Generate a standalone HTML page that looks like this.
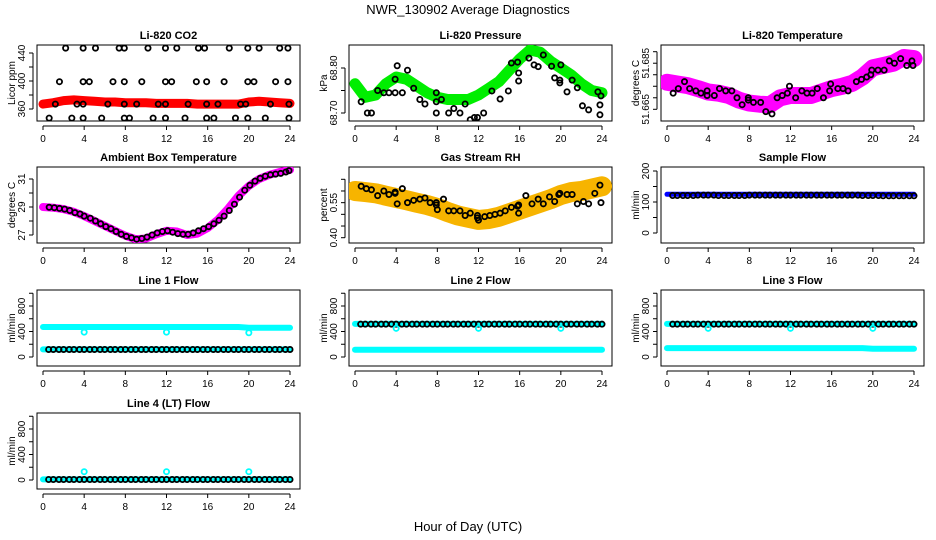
<!DOCTYPE html>
<html><head><meta charset="utf-8"><style>
html,body{margin:0;padding:0;background:#fff}
svg{display:block;font-family:"Liberation Sans",sans-serif}
</style></head><body>
<svg id="chart" width="936" height="540" viewBox="0 0 936 540">
<text x="468" y="14" text-anchor="middle" font-size="13">NWR_130902  Average Diagnostics</text>
<text x="468" y="531" text-anchor="middle" font-size="13">Hour of Day (UTC)</text>
</svg>
<script>
// ---- data ----
const xTicks = [0,4,8,12,16,20,24];
const hourly = [0,1,2,3,4,5,6,7,8,9,10,11,12,13,14,15,16,17,18,19,20,21,22,23,24];

const co2Band = [367,369,372,373,372,371,370,370,369,369,369,368,368,368,368,367,367,367,367,367,370,371,370,369,368];
const co2PtHours = [2.2,3.9,5.1,7.4,7.9,10.2,11.9,13,15.1,15.7,18.1,19.9,21,23,23.8, 1.6,3.9,4.5,6.8,7.9,9.6,11.9,12.5,14.9,15.9,17.6,19.9,20.5,22.6,23.8, 1.2,3.3,3.9,6.3,7.9,9.1,11.2,11.9,14.1,15.9,17,19.2,19.7,22.1,23.9, 0.6,2.8,3.9,5.7,7.9,8.4,10.7,11.9,13.8,15.9,16.6,18.7,19.9,21.6,23.9];
const co2PtVals = [447,447,447,447,447,447,447,447,447,447,447,447,447,447,447, 399,399,399,399,399,399,399,399,399,399,399,399,399,399,399, 367,367,367,367,367,367,367,367,367,367,367,367,367,367,367, 347,347,347,347,347,347,347,347,347,347,347,347,347,347,347];
const co2Ticks = [360,380,400,420,440];
const co2Labels = ["360","","400","","440"];

const presBand = [68.765,68.735,68.74,68.765,68.78,68.775,68.76,68.745,68.735,68.73,68.73,68.73,68.74,68.755,68.77,68.795,68.82,68.84,68.835,68.815,68.8,68.785,68.765,68.75,68.745];
const presPtHours = [0.6,1.2,1.6,2.2,2.8,3.3,3.9,3.9,4.1,4.6,5.1,5.7,6.3,6.8,7.9,7.9,7.9,8.4,9.1,9.6,10.2,10.7,11.2,11.6,11.9,12.5,13.3,14.1,14.9,15.2,15.8,15.9,15.9,16.9,17.4,17.8,18.3,19.1,19.4,19.9,19.9,20.0,20.6,21.1,21.6,22.1,22.7,23.8,23.8,23.9,23.6];
const presPtVals = [68.725,68.70,68.70,68.75,68.745,68.745,68.745,68.775,68.805,68.745,68.795,68.755,68.73,68.72,68.70,68.725,68.745,68.73,68.70,68.71,68.70,68.72,68.685,68.69,68.69,68.70,68.749,68.731,68.749,68.811,68.813,68.789,68.771,68.822,68.807,68.803,68.829,68.804,68.778,68.773,68.767,68.807,68.747,68.773,68.756,68.716,68.707,68.696,68.718,68.738,68.747];
const presTicks = [68.70,68.75,68.80];
const presLabels = ["68.70","","68.80"];

const ltBand = [51.6717,51.671,51.6703,51.669,51.6675,51.667,51.666,51.664,51.6627,51.6622,51.662,51.665,51.666,51.666,51.666,51.6675,51.669,51.670,51.6713,51.674,51.678,51.679,51.680,51.6825,51.682];
const ltPtHours = [0.6,1.1,1.7,2.2,2.8,3.3,3.9,3.9,4.6,5.1,5.7,6.3,6.8,7.3,7.9,7.9,8.4,9.1,9.6,10.2,10.7,11.2,11.7,11.9,12.5,13.1,13.6,14.1,14.6,15.2,15.8,15.9,16.6,17.1,17.6,18.4,18.9,19.4,19.8,19.9,20.5,21.1,21.6,22.1,22.7,23.3,23.8,23.9];
const ltPtVals = [51.667,51.669,51.672,51.669,51.668,51.667,51.666,51.668,51.666,51.669,51.668,51.668,51.665,51.662,51.664,51.665,51.663,51.663,51.659,51.658,51.665,51.666,51.667,51.670,51.665,51.668,51.667,51.667,51.669,51.665,51.668,51.671,51.669,51.669,51.668,51.672,51.673,51.674,51.675,51.677,51.677,51.677,51.681,51.680,51.682,51.679,51.681,51.679];
const ltTicks = [51.660,51.665,51.670,51.675,51.680,51.685];
const ltLabels = ["51.665","","","","51.685",""];

const ambBand = [29.0,28.95,28.85,28.65,28.35,28.0,27.65,27.3,26.95,26.7,26.75,27.05,27.3,27.25,27.0,27.1,27.5,28.1,28.9,29.8,30.5,31.0,31.3,31.5,31.65];
const ambPtHours = [0.6,1.1,1.6,2.1,2.6,3.1,3.6,4.0,4.6,5.1,5.6,6.1,6.6,7.1,7.6,8.1,8.6,9.1,9.6,10.1,10.6,11.1,11.6,12.1,12.6,13.1,13.6,14.1,14.6,15.1,15.6,16.1,16.6,17.1,17.6,18.1,18.6,19.1,19.6,20.1,20.6,21.1,21.6,22.1,22.6,23.1,23.6,23.9];
const ambPtVals = [28.98,28.95,28.9,28.85,28.75,28.6,28.5,28.35,28.2,28.0,27.8,27.6,27.45,27.25,27.05,26.9,26.8,26.7,26.75,26.85,27.0,27.15,27.25,27.3,27.2,27.1,27.05,27.05,27.15,27.3,27.45,27.6,27.8,28.05,28.35,28.75,29.2,29.7,30.2,30.55,30.85,31.05,31.2,31.3,31.35,31.4,31.5,31.6];
const ambTicks = [27,28,29,30,31];
const ambLabels = ["27","","29","","31"];

const rhBand = [0.60,0.595,0.59,0.58,0.57,0.56,0.55,0.54,0.527,0.51,0.495,0.485,0.476,0.48,0.49,0.505,0.52,0.535,0.55,0.565,0.583,0.595,0.60,0.61,0.62];
const rhPtHours = [0.6,1.1,1.6,2.2,2.8,3.3,3.9,3.9,4.1,4.6,5.1,5.7,6.3,6.8,7.3,7.9,7.9,8.0,8.6,9.1,9.6,10.2,10.7,11.2,11.9,11.9,12.0,12.6,13.1,13.6,14.1,14.6,15.2,15.8,15.9,15.9,16.6,17.2,17.8,18.3,18.9,19.4,19.8,19.9,20.6,21.1,21.6,22.2,22.7,23.3,23.8,23.9];
const rhPtVals = [0.62,0.61,0.605,0.58,0.60,0.585,0.59,0.595,0.545,0.61,0.55,0.56,0.565,0.57,0.55,0.55,0.54,0.52,0.565,0.515,0.515,0.515,0.495,0.505,0.485,0.495,0.475,0.49,0.495,0.50,0.505,0.515,0.53,0.535,0.54,0.505,0.58,0.545,0.565,0.545,0.575,0.555,0.585,0.59,0.585,0.585,0.545,0.555,0.545,0.59,0.625,0.55];
const rhTicks = [0.40,0.45,0.50,0.55,0.60,0.65];
const rhLabels = ["0.40","","","0.55","",""];

const sfBand = [125,125,125,125,125,125,125,125,125,125,125,125,125,125,125,125,125,125,125,125,125,125,125,125,125];
const sfBlack = [121,121,121,122,122,121,121,121,122,122,122,122,122,122,122,122,122,122,122,121,121,120,120,120,120];
const sfTicks = [0,50,100,150,200];
const sfLabels = ["0","","100","","200"];

const flowTicks = [0,200,400,600,800,1000];
const flowLabels = ["0","","400","","800",""];
const l1High = [470,470,470,470,470,470,470,470,470,470,470,470,470,470,470,470,470,470,470,470,460,460,460,460,460];
const l1Low = [120,120,120,120,120,120,120,120,120,120,120,120,120,120,120,120,120,120,120,120,120,120,120,120,120];
const l1Black = [118,118,118,118,118,118,118,118,118,118,118,118,118,118,118,118,118,118,118,118,118,118,118,118,118];
const l1Outliers = [390,390,380];
const l2High = [520,520,520,520,520,520,520,520,520,520,520,520,520,520,520,520,520,520,520,520,520,520,520,520,520];
const l2Low = [115,115,115,115,115,115,115,115,115,115,115,115,115,115,115,115,115,115,115,115,115,115,115,115,115];
const l2Black = [515,515,515,515,515,515,515,515,515,515,515,515,515,515,515,515,515,515,515,515,515,515,515,515,515];
const l2Outliers = [450,450,450];
const l3High = [520,520,520,520,520,520,520,520,520,520,520,520,520,520,520,520,520,520,520,520,520,520,520,520,520];
const l3Low = [140,140,140,140,140,140,140,140,140,140,140,140,140,140,140,140,140,140,140,140,130,130,130,130,130];
const l3Black = [515,515,515,515,515,515,515,515,515,515,515,515,515,515,515,515,515,515,515,515,515,515,515,515,515];
const l3Outliers = [450,450,450];
const l4Band = [10,10,10,10,10,10,10,10,10,10,10,10,10,10,10,10,10,10,10,10,10,10,10,10,10];
const l4Black = [8,8,8,8,8,8,8,8,8,8,8,8,8,8,8,8,8,8,8,8,8,8,8,8,8];
const l4Outliers = [130,130,130];
const outlierHours = [4,12,20];

// ---- drawing ----
const NS = "http://www.w3.org/2000/svg";
const svg = document.getElementById('chart');
function mk(tag, attrs, parent){const e=document.createElementNS(NS,tag);for(const k in attrs)e.setAttribute(k,attrs[k]);(parent||svg).appendChild(e);return e;}

const colLeft = [37,349,661], rowTop = [45,167,290,413], BW = 263, BH = 76;

function panel(name, col, row, title, ytitle, v1, y1, v2, y2, ticks, labels){
  const L = colLeft[col], T = rowTop[row];
  const g = mk('g',{});
  
  
  const xs = h => L + 6 + h * (247/24);
  const ys = v => T + y1 + (v - v1) * (y2 - y1) / (v2 - v1);
  const t = mk('text',{x:L+BW/2,y:T-6,'text-anchor':'middle','font-size':11,'font-weight':'bold'},g);
  t.textContent = title;
  
  
  const box = mk('rect',{x:L,y:T,width:BW,height:BH,fill:'none',stroke:'#000','stroke-width':1},g);
  
  
  const xa = mk('g',{},g);
  
  
  const ay = T + BH + 5;
  mk('line',{x1:xs(xTicks[0]),x2:xs(xTicks[xTicks.length-1]),y1:ay,y2:ay,stroke:'#000'},xa);
  xTicks.forEach(v=>{
    mk('line',{x1:xs(v),x2:xs(v),y1:ay,y2:ay+4,stroke:'#000'},xa);
    const tl = mk('text',{x:xs(v),y:ay+16,'text-anchor':'middle','font-size':10},xa);
    tl.textContent = v;
  });
  const ya = mk('g',{},g);
  
  
  const ax = L - 4;
  mk('line',{x1:ax,x2:ax,y1:ys(ticks[0]),y2:ys(ticks[ticks.length-1]),stroke:'#000'},ya);
  ticks.forEach((v,i)=>{
    mk('line',{x1:ax-4,x2:ax,y1:ys(v),y2:ys(v),stroke:'#000'},ya);
    if(labels[i]){
      const tl = mk('text',{x:0,y:0,'text-anchor':'middle','font-size':10,transform:`translate(${ax-8},${ys(v)}) rotate(-90)`},ya);
      tl.textContent = labels[i];
    }
  });
  const yt = mk('text',{x:0,y:0,'text-anchor':'middle','font-size':10,transform:`translate(${L-22},${T+BH/2}) rotate(-90)`},g);
  yt.textContent = ytitle;
  
  
  const clip = 'clip-'+name;
  const cp = mk('clipPath',{id:clip},g); mk('rect',{x:L,y:T,width:BW,height:BH},cp);
  const plot = mk('g',{'clip-path':`url(#${clip})`},g);
  return {xs, ys, plot, name};
}
function band(p, hours, vals, color, width, label){
  const pts = hours.map((h,i)=>`${p.xs(h).toFixed(1)},${p.ys(vals[i]).toFixed(1)}`).join(' ');
  const pl = mk('polyline',{points:pts,fill:'none',stroke:color,'stroke-width':width,'stroke-linejoin':'round','stroke-linecap':'round'},p.plot);
  
  
}
function points(p, hours, vals, color, label, r){
  const g = mk('g',{},p.plot);
  
  
  hours.forEach((h,i)=>{
    mk('circle',{cx:p.xs(h),cy:p.ys(vals[i]),r:r||2.6,fill:'none',stroke:color,'stroke-width':1.8},g);
  });
}
function halfHourPts(p, vals, color, label){
  const hs=[], vs=[];
  hourly.slice(0,24).forEach((h,i)=>{hs.push(h+0.55);vs.push(vals[i]);hs.push(h+1.0);vs.push(vals[i+1]);});
  points(p, hs, vs, color, label);
}

let p;
p = panel('co2',0,0,'Li-820 CO2','Licor ppm',360,64,440,8,co2Ticks,co2Labels);
band(p,hourly,co2Band,'#ff0000',9,'co2-band');
points(p,co2PtHours,co2PtVals,'#000','avg-points');

p = panel('pressure',1,0,'Li-820 Pressure','kPa',68.70,68,68.80,23,presTicks,presLabels);
band(p,hourly,presBand,'#00ee00',11,'pressure-band');
points(p,presPtHours,presPtVals,'#000','avg-points');

p = panel('li-temp',2,0,'Li-820 Temperature','degrees C',51.660,64.3,51.685,6.7,ltTicks,ltLabels);
band(p,hourly,ltBand,'#ff00ff',17,'temperature-band');
points(p,ltPtHours,ltPtVals,'#000','avg-points');

p = panel('ambient',0,1,'Ambient Box Temperature','degrees C',27,68,31,12,ambTicks,ambLabels);
band(p,hourly,ambBand,'#ff00ff',8,'temperature-band');
points(p,ambPtHours,ambPtVals,'#000','avg-points');

p = panel('rh',1,1,'Gas Stream RH','percent',0.40,70.7,0.65,12.3,rhTicks,rhLabels);
band(p,hourly,rhBand,'#f7b400',20,'rh-band');
points(p,rhPtHours,rhPtVals,'#000','avg-points');

p = panel('sample-flow',2,1,'Sample Flow','ml/min',0,66,200,4,sfTicks,sfLabels);
band(p,hourly,sfBand,'#0000ff',5,'flow-band');
halfHourPts(p,sfBlack,'#000','avg-points');

p = panel('line1-flow',0,2,'Line 1 Flow','ml/min',0,67,800,16,flowTicks,flowLabels);
band(p,hourly,l1High,'#00ffff',6,'flow-band-high');
band(p,hourly,l1Low,'#00ffff',6,'flow-band-low');
halfHourPts(p,l1Black,'#000','avg-points');
points(p,outlierHours,l1Outliers,'#00ffff','outliers');

p = panel('line2-flow',1,2,'Line 2 Flow','ml/min',0,67,800,16,flowTicks,flowLabels);
band(p,hourly,l2High,'#00ffff',6,'flow-band-high');
band(p,hourly,l2Low,'#00ffff',6,'flow-band-low');
halfHourPts(p,l2Black,'#000','avg-points');
points(p,outlierHours,l2Outliers,'#00ffff','outliers');

p = panel('line3-flow',2,2,'Line 3 Flow','ml/min',0,67,800,16,flowTicks,flowLabels);
band(p,hourly,l3High,'#00ffff',6,'flow-band-high');
band(p,hourly,l3Low,'#00ffff',6,'flow-band-low');
halfHourPts(p,l3Black,'#000','avg-points');
points(p,outlierHours,l3Outliers,'#00ffff','outliers');

p = panel('line4-flow',0,3,'Line 4 (LT) Flow','ml/min',0,67,800,16,flowTicks,flowLabels);
band(p,hourly,l4Band,'#00ffff',6,'flow-band');
halfHourPts(p,l4Black,'#000','avg-points');
points(p,outlierHours,l4Outliers,'#00ffff','outliers');
</script>
</body></html>
